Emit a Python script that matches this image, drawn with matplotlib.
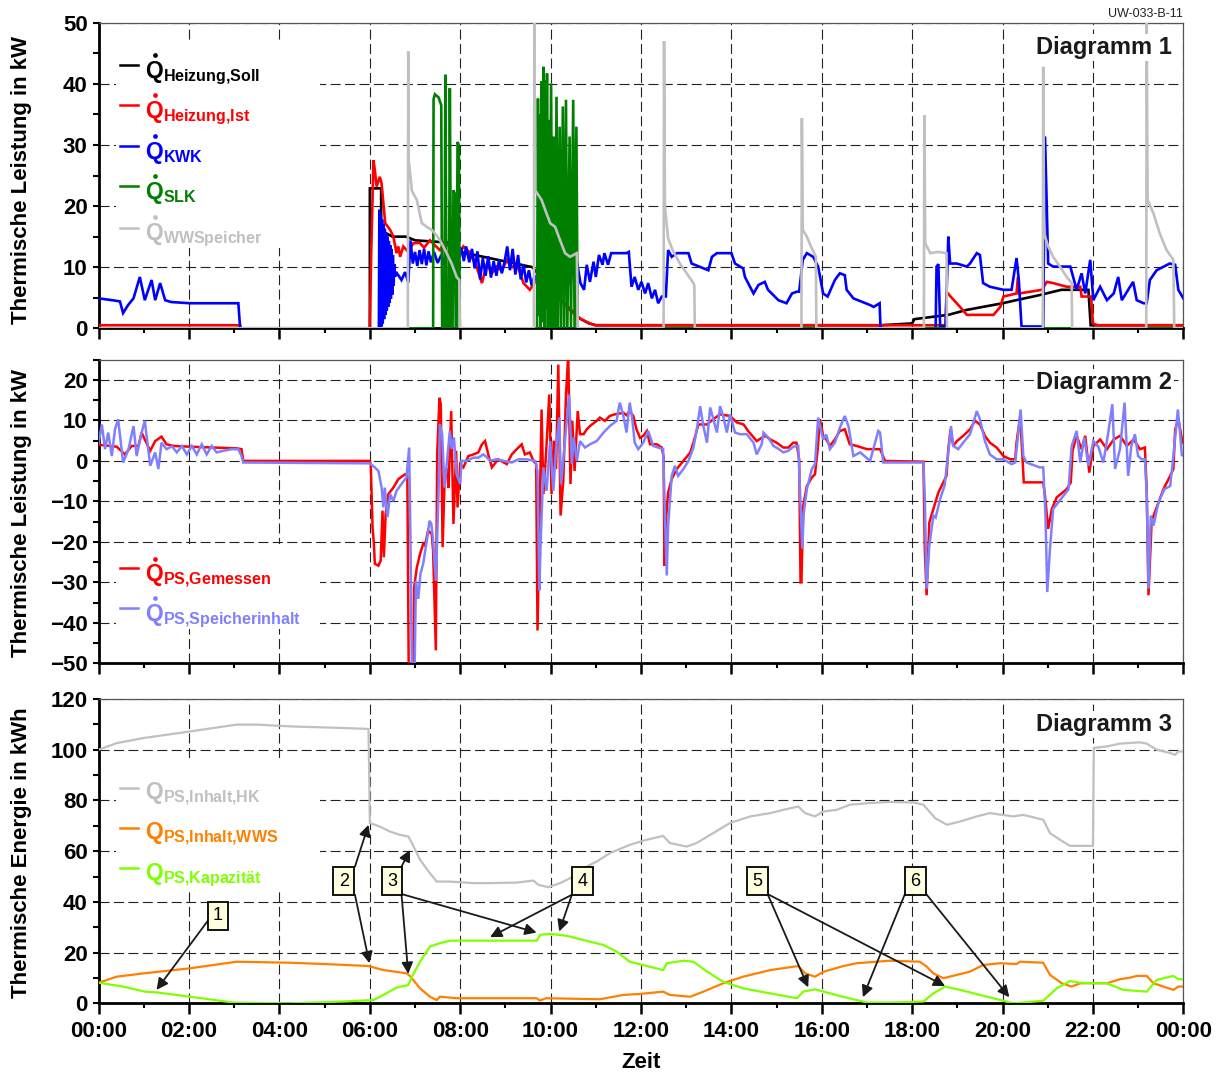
import matplotlib
matplotlib.use('Agg')
import matplotlib.pyplot as plt
from matplotlib.ticker import MultipleLocator, FixedLocator
from matplotlib.patches import Rectangle

plt.rcParams['font.family'] = ['Liberation Sans', 'DejaVu Sans']
plt.rcParams['mathtext.fontset'] = 'custom'
plt.rcParams['mathtext.bf'] = 'Liberation Sans:bold'
plt.rcParams['mathtext.rm'] = 'Liberation Sans'
plt.rcParams['mathtext.it'] = 'Liberation Sans:italic'
plt.rcParams['mathtext.sf'] = 'Liberation Sans'

# ---------------- data (time in hours, values) ----------------
heizung_soll = [(0, 0), (6.0, 0), (6.0, 22.9), (6.25, 22.9), (6.25, 16.0), (6.5, 15.0), (6.8, 15.0),
                (7.0, 14.4), (7.8, 14.0), (8.0, 12.5), (9.6, 10.0), (9.95, 6.8), (10.3, 4.1), (10.45, 3.0),
                (10.65, 1.6), (10.85, 0.8), (11.0, 0.5), (17.3, 0.5), (18.0, 0.8), (18.05, 1.5), (18.8, 2.2),
                (19.2, 3.0), (20.0, 4.1), (20.3, 4.6), (20.8, 5.4), (21.3, 6.3), (21.9, 6.3), (21.95, 0.5),
                (24, 0.5)]

heizung_ist = [(0, 0.5), (3.13, 0.5), (3.13, 0), (6.0, 0), (6.03, 12.3), (6.08, 27.5), (6.11, 25.9),
               (6.15, 23.2), (6.22, 24.8), (6.26, 23.7), (6.34, 17.2), (6.45, 16.1), (6.52, 15.0),
               (6.59, 12.3), (6.63, 13.4), (6.67, 11.7), (6.74, 13.4), (6.85, 12.5), (6.96, 13.9),
               (7.10, 14.0), (7.20, 13.2), (7.33, 14.4), (7.45, 13.5), (7.55, 12.8), (7.65, 14.0),
               (7.77, 13.4), (7.88, 12.6), (8.00, 12.3), (8.07, 13.4), (8.20, 12.5), (8.36, 10.1),
               (8.48, 7.4), (8.59, 10.6), (8.70, 9.0), (8.81, 10.1), (8.92, 9.4), (9.03, 11.2),
               (9.15, 10.0), (9.25, 10.6), (9.40, 7.4), (9.54, 6.3), (9.69, 7.9), (9.85, 6.5),
               (9.99, 6.8), (10.13, 5.2), (10.28, 4.1), (10.43, 3.0), (10.65, 1.6), (10.87, 0.8),
               (11.0, 0.5), (18.74, 0.5), (18.76, 6.0), (18.85, 5.2), (19.06, 3.5), (19.21, 2.2),
               (19.80, 2.2), (19.95, 3.5), (20.02, 5.2), (20.31, 5.7), (20.34, 8.4), (20.37, 5.7),
               (20.87, 6.3), (20.98, 7.6), (21.12, 7.4), (21.42, 6.8), (21.72, 6.8), (21.75, 5.2),
               (21.96, 5.2), (22.0, 0.8), (22.1, 0.5), (24.0, 0.5)]

kwk = [(0.0, 4.9), (0.30, 4.6), (0.47, 4.4), (0.54, 2.5), (0.65, 3.8), (0.77, 4.9), (0.91, 8.4),
       (1.02, 4.6), (1.17, 7.9), (1.25, 4.6), (1.36, 7.4), (1.47, 4.6), (1.60, 4.3), (2.02, 4.1),
       (3.09, 4.1), (3.13, 0), (6.20, 0), (6.21, 19.4), (6.225, 0), (6.24, 18.5), (6.255, 0.3),
       (6.27, 17.8), (6.285, 0.8), (6.30, 17.0), (6.315, 1.5), (6.33, 16.3), (6.345, 2.2), (6.36, 15.6),
       (6.375, 2.9), (6.39, 15.0), (6.405, 3.5), (6.42, 14.3), (6.435, 4.2), (6.45, 13.6), (6.465, 4.8),
       (6.48, 13.0), (6.495, 5.5), (6.51, 12.0), (6.525, 7.0), (6.54, 10.5), (6.56, 8.5),
       (6.60, 9.0), (6.70, 7.9), (6.78, 9.2), (6.85, 7.5), (6.90, 14.4), (6.95, 10.6), (7.00, 12.5),
       (7.05, 10.2), (7.10, 12.8), (7.15, 10.5), (7.20, 13.0), (7.25, 10.3), (7.30, 12.6),
       (7.35, 10.8), (7.42, 12.5), (7.50, 10.7), (7.58, 12.0), (7.65, 10.4), (7.72, 12.4),
       (7.80, 10.9), (7.88, 12.8), (7.95, 10.5), (8.02, 13.2), (8.08, 11.0), (8.13, 13.4),
       (8.20, 10.8), (8.26, 13.0), (8.32, 9.8), (8.38, 12.6), (8.44, 8.0), (8.50, 11.5), (8.56, 8.6),
       (8.62, 11.8), (8.68, 8.3), (8.74, 11.0), (8.80, 8.6), (8.86, 11.2), (8.92, 9.0), (8.98, 10.8),
       (9.04, 13.4), (9.10, 9.5), (9.16, 13.0), (9.22, 8.8), (9.28, 12.0), (9.34, 8.0), (9.40, 10.5),
       (9.46, 7.5), (9.52, 9.5), (9.58, 7.0), (9.64, 8.5), (9.69, 7.9), (9.75, 13.0), (9.80, 9.0),
       (9.86, 12.5), (9.92, 8.5), (9.98, 12.0), (10.04, 7.5), (10.10, 11.5), (10.16, 7.0),
       (10.22, 12.8), (10.28, 8.0), (10.34, 11.8), (10.40, 7.2), (10.46, 12.0), (10.52, 7.8),
       (10.58, 11.0), (10.66, 7.4), (10.74, 6.3), (10.80, 10.4), (10.87, 7.6), (10.95, 10.9),
       (11.00, 8.4), (11.07, 12.0), (11.15, 10.4), (11.19, 12.3), (11.27, 10.4), (11.34, 12.3),
       (11.68, 12.3), (11.73, 12.5), (11.79, 6.8), (11.86, 8.4), (11.94, 6.3), (12.01, 7.6),
       (12.09, 5.7), (12.16, 7.4), (12.24, 4.9), (12.31, 6.3), (12.38, 4.1), (12.46, 5.2),
       (12.55, 5.2), (12.60, 12.8), (12.68, 11.7), (12.79, 12.3), (13.05, 12.3), (13.12, 10.6),
       (13.49, 9.5), (13.57, 11.7), (13.68, 12.3), (14.00, 12.3), (14.08, 10.6), (14.26, 9.8),
       (14.30, 8.4), (14.49, 5.7), (14.60, 7.1), (14.74, 7.6), (14.81, 6.3), (15.04, 4.6),
       (15.22, 4.1), (15.34, 5.7), (15.45, 6.0), (15.50, 6.0), (15.58, 11.2), (15.67, 12.3),
       (15.81, 11.7), (15.92, 10.1), (16.03, 5.7), (16.13, 5.2), (16.29, 7.9), (16.40, 9.0),
       (16.51, 8.7), (16.55, 6.3), (16.70, 4.9), (17.07, 3.8), (17.15, 3.5), (17.28, 4.1),
       (17.30, 0), (18.52, 0), (18.54, 10.1), (18.58, 10.5), (18.62, 0.3), (18.74, 0.3),
       (18.80, 15.0), (18.84, 10.6), (18.99, 10.6), (19.21, 10.1), (19.28, 10.6), (19.43, 12.3),
       (19.50, 12.0), (19.57, 7.4), (19.72, 6.8), (20.02, 6.3), (20.20, 6.3), (20.31, 11.5),
       (20.36, 7.9), (20.42, 0.3), (20.90, 0.3), (20.94, 31.4), (21.01, 10.6), (21.12, 10.1),
       (21.50, 10.1), (21.64, 6.3), (21.75, 9.0), (21.83, 5.7), (21.94, 11.2), (22.01, 4.6),
       (22.16, 6.8), (22.31, 4.6), (22.46, 5.7), (22.56, 8.4), (22.64, 4.6), (22.78, 6.3),
       (22.89, 7.6), (22.97, 4.6), (23.12, 4.1), (23.19, 4.1), (23.26, 7.9), (23.41, 9.5),
       (23.70, 10.6), (23.82, 10.4), (23.89, 6.3), (24.0, 4.9)]

slk = [(0, 0), (7.40, 0), (7.41, 37.5), (7.44, 38.3), (7.52, 37.8), (7.58, 36.5), (7.60, 0), (7.65, 0),
       (7.67, 41.5), (7.70, 0), (7.75, 0), (7.77, 39.3), (7.80, 0), (7.83, 0), (7.85, 22.6), (7.88, 22.0),
       (7.90, 0), (7.92, 0), (7.94, 30.5), (7.97, 30.0), (7.99, 0), (9.70, 0), (9.72, 37.6), (9.74, 2),
       (9.76, 35.0), (9.78, 0), (9.80, 40.4), (9.82, 1), (9.84, 42.8), (9.86, 0), (9.88, 40.6),
       (9.90, 3), (9.92, 41.7), (9.94, 0), (9.96, 34.1), (9.98, 0), (10.01, 40.1), (10.04, 0),
       (10.07, 31.4), (10.10, 0), (10.13, 37.9), (10.16, 0), (10.20, 33.0), (10.23, 0), (10.27, 36.3),
       (10.30, 0), (10.34, 37.4), (10.37, 0), (10.42, 31.4), (10.45, 0), (10.50, 37.4), (10.53, 0),
       (10.57, 33.0), (10.60, 0), (24, 0)]

ww_speicher = [(0, 0), (6.84, 0), (6.85, 45.3), (6.86, 27.5), (6.90, 24.8), (6.93, 22.5), (7.04, 21.0),
               (7.15, 17.2), (7.26, 16.6), (7.37, 16.1), (7.48, 15.2), (7.59, 13.9), (7.70, 12.3),
               (7.81, 10.6), (7.92, 8.4), (7.98, 7.9), (7.99, 0), (9.63, 0), (9.64, 50.5), (9.66, 22.6),
               (9.80, 21.0), (9.91, 18.8), (9.99, 17.2), (10.10, 16.6), (10.21, 14.4), (10.32, 12.3),
               (10.43, 11.7), (10.58, 12.3), (10.60, 0), (12.50, 0), (12.51, 47.0), (12.53, 19.9),
               (12.60, 14.7), (12.70, 12.8), (12.86, 10.6), (13.01, 9.0), (13.16, 7.4), (13.18, 7.0),
               (13.19, 0), (15.55, 0), (15.56, 34.4), (15.58, 16.1), (15.67, 15.0), (15.76, 13.4),
               (15.87, 11.7), (15.88, 0), (18.26, 0), (18.27, 34.9), (18.29, 13.9), (18.40, 12.3),
               (18.58, 12.5), (18.76, 12.3), (18.77, 0), (20.89, 0), (20.90, 42.8), (20.92, 15.5),
               (21.01, 13.4), (21.12, 11.7), (21.27, 10.1), (21.42, 8.4), (21.53, 7.4), (21.54, 0),
               (23.18, 0), (23.19, 50.5), (23.21, 21.0), (23.34, 18.8), (23.48, 15.5), (23.63, 12.8),
               (23.78, 11.2), (23.80, 0), (24, 0)]

ps_gemessen = [(0, 4.0), (0.25, 3.7), (0.40, 3.5), (0.58, 1.6), (0.73, 3.7), (0.88, 3.7), (0.95, 7.0),
               (1.02, 5.3), (1.14, 2.5), (1.25, 4.9), (1.39, 6.0), (1.50, 4.1), (1.66, 3.7), (2.03, 3.5),
               (3.05, 3.1), (3.16, 2.9), (3.20, 0), (6.0, 0), (6.02, -0.8), (6.06, -16.4), (6.09, -20.5),
               (6.11, -25.4), (6.19, -25.9), (6.24, -24.6), (6.28, -12.3), (6.31, -23.8), (6.35, -13.1),
               (6.41, -8.2), (6.52, -6.6), (6.63, -4.5), (6.78, -3.3), (6.83, -3.7), (6.86, -52),
               (6.96, -52), (6.98, -31.2), (7.04, -26.3), (7.11, -23.0), (7.18, -20.5), (7.22, -20.9),
               (7.29, -17.2), (7.37, -18.1), (7.40, -22.2), (7.46, -46.8), (7.49, 1.6), (7.54, 15.6),
               (7.57, 14.0), (7.61, -21.3), (7.66, -2.5), (7.70, -1.8), (7.74, -6.6), (7.80, 12.3),
               (7.85, -15.6), (7.91, 2.5), (7.94, -11.5), (8.00, -0.8), (8.07, -1.6), (8.18, 1.2),
               (8.29, 1.6), (8.40, 2.1), (8.48, 4.1), (8.55, 4.9), (8.62, 1.6), (8.70, -1.6), (8.84, 0.4),
               (9.03, -0.8), (9.14, 1.6), (9.25, 2.9), (9.36, 4.1), (9.43, 1.6), (9.54, 2.1), (9.62, 0.0),
               (9.68, -0.8), (9.71, -41.9), (9.75, -18.0), (9.80, 12.7), (9.84, -8.2), (9.90, 2.0),
               (9.97, 16.4), (10.02, -8.2), (10.07, 5.0), (10.12, -2.0), (10.17, 23.8), (10.22, -13.5),
               (10.28, -5.0), (10.34, 16.4), (10.39, 26), (10.44, -5.7), (10.48, 9.9), (10.53, -2.5),
               (10.60, 12.3), (10.65, 6.6), (10.73, 6.6), (10.80, 7.8), (10.87, 8.6), (11.02, 9.9),
               (11.09, 10.7), (11.20, 9.9), (11.31, 11.1), (11.42, 11.5), (11.61, 11.9), (11.68, 11.3),
               (11.75, 12.3), (11.83, 11.1), (11.90, 7.8), (11.98, 5.7), (12.05, 6.2), (12.13, 7.4),
               (12.20, 4.1), (12.35, 4.1), (12.46, 3.3), (12.50, 1.0), (12.52, -25.9), (12.56, -13.5),
               (12.60, -7.8), (12.68, -4.5), (12.79, -2.0), (12.94, 0.0), (13.09, 2.1), (13.16, 4.5),
               (13.27, 9.0), (13.46, 9.0), (13.60, 10.3), (13.75, 11.5), (13.97, 11.1), (14.12, 9.5),
               (14.27, 9.0), (14.37, 7.4), (14.56, 4.9), (14.67, 5.7), (14.75, 6.2), (14.86, 5.3),
               (15.00, 4.5), (15.15, 3.3), (15.26, 3.3), (15.37, 4.5), (15.44, 4.5), (15.50, 0.4),
               (15.53, -30.0), (15.55, -30.0), (15.59, -11.1), (15.67, -6.2), (15.78, -4.1), (15.85, -3.3),
               (15.91, 2.9), (15.96, 10.3), (16.03, 6.2), (16.10, 5.3), (16.18, 3.7), (16.29, 5.3),
               (16.40, 7.4), (16.51, 7.8), (16.62, 4.1), (16.77, 3.7), (17.00, 2.9), (17.14, 2.9),
               (17.29, 2.9), (17.40, 0.0), (18.25, -0.2), (18.28, -21.7), (18.32, -33.2), (18.38, -15.2),
               (18.47, -11.9), (18.58, -7.8), (18.69, -5.3), (18.76, -3.7), (18.80, 2.9), (18.85, 7.8),
               (18.91, 3.7), (18.99, 4.9), (19.13, 6.2), (19.28, 7.8), (19.39, 9.9), (19.50, 9.0),
               (19.61, 6.2), (19.72, 4.5), (19.87, 3.3), (20.02, 1.2), (20.17, 0.4), (20.28, 0.4),
               (20.31, 4.5), (20.39, 11.1), (20.44, 1.2), (20.47, -5.3), (20.90, -5.3), (20.94, -8.6),
               (21.01, -16.8), (21.09, -11.9), (21.20, -9.0), (21.42, -7.0), (21.51, -5.3), (21.55, 2.5),
               (21.64, 6.2), (21.75, 2.9), (21.83, 6.2), (21.92, -2.9), (22.01, 3.7), (22.16, 5.3),
               (22.31, 2.9), (22.46, 5.3), (22.60, 6.2), (22.75, 3.7), (22.90, 5.3), (23.04, 2.9),
               (23.15, 3.3), (23.19, -7.0), (23.23, -33.2), (23.30, -14.8), (23.41, -11.5), (23.56, -7.0),
               (23.71, -3.7), (23.78, -2.0), (23.82, 7.8), (23.89, 10.3), (23.97, 5.3), (24.0, 4.5)]

ps_speicherinhalt = [(0, 4.5), (0.07, 9.0), (0.14, 2.9), (0.21, 7.0), (0.29, 1.2), (0.36, 7.8), (0.43, 10.3),
                     (0.54, -0.4), (0.66, 2.9), (0.77, 8.6), (0.84, 1.2), (0.95, 7.0), (1.02, 9.9),
                     (1.14, -1.2), (1.25, 2.1), (1.32, -2.0), (1.39, 4.5), (1.50, 2.9), (1.62, 3.6),
                     (1.73, 2.1), (1.84, 3.7), (1.95, 1.6), (2.06, 3.7), (2.17, 1.6), (2.28, 4.1), (2.39, 1.6),
                     (2.50, 3.7), (2.61, 2.1), (2.76, 2.5), (2.94, 2.9), (3.09, 2.9), (3.16, 1.2), (3.20, -0.4),
                     (6.0, -0.6), (6.11, -1.6), (6.19, -2.5), (6.26, -6.6), (6.30, -11.5), (6.33, -6.6),
                     (6.39, -13.9), (6.45, -8.2), (6.52, -9.9), (6.59, -7.4), (6.70, -5.7), (6.81, -4.1),
                     (6.87, 3.3), (6.90, -21.0), (6.93, -52), (6.99, -52), (7.02, -29.6), (7.07, -34.1),
                     (7.12, -27.9), (7.18, -25.4), (7.26, -19.7), (7.32, -14.8), (7.36, -15.5), (7.40, -19.7),
                     (7.46, -29.6), (7.52, -8.2), (7.55, 9.0), (7.60, 6.6), (7.65, -6.6), (7.70, -1.0),
                     (7.77, 7.4), (7.81, 3.0), (7.86, 5.8), (7.92, -3.3), (8.00, -5.7), (8.03, 0.0),
                     (8.14, 0.0), (8.29, 0.8), (8.40, 0.8), (8.51, 1.6), (8.58, 1.0), (8.66, 0.0), (8.80, 0.4),
                     (9.14, -0.4), (9.29, 0.4), (9.47, 0.4), (9.66, 0.0), (9.71, -2.5), (9.75, -32.0),
                     (9.78, -20.0), (9.84, -1.6), (9.91, -7.4), (9.99, 4.9), (10.06, -7.4), (10.12, 3.0),
                     (10.19, 10.7), (10.23, -5.7), (10.30, 3.0), (10.41, 16.4), (10.47, -0.8), (10.51, 5.8),
                     (10.58, 0.0), (10.65, 4.9), (10.76, 3.3), (10.87, 4.1), (11.02, 4.9), (11.17, 7.0),
                     (11.31, 8.6), (11.46, 9.9), (11.53, 14.4), (11.61, 11.1), (11.68, 7.0), (11.75, 14.4),
                     (11.80, 11.0), (11.86, 4.5), (11.94, 2.9), (12.05, 4.5), (12.16, 7.4), (12.27, 3.7),
                     (12.38, 3.3), (12.49, 2.9), (12.53, -13.5), (12.57, -28.3), (12.60, -16.0), (12.68, -3.7),
                     (12.75, -1.2), (12.82, -3.7), (12.94, -2.0), (13.05, 0.0), (13.16, 3.3), (13.23, 7.4),
                     (13.31, 13.5), (13.38, 8.6), (13.46, 4.5), (13.53, 13.2), (13.60, 10.3), (13.68, 7.0),
                     (13.75, 13.5), (13.82, 11.0), (13.90, 7.0), (13.97, 11.5), (14.08, 7.0), (14.19, 6.6),
                     (14.34, 6.6), (14.49, 4.5), (14.56, 1.6), (14.67, 4.1), (14.71, 7.0), (14.82, 5.7),
                     (14.93, 3.7), (15.04, 3.0), (15.15, 2.1), (15.26, 2.5), (15.37, 3.5), (15.48, 3.7),
                     (15.52, -8.0), (15.57, -21.7), (15.60, -13.0), (15.67, -7.0), (15.78, -2.0), (15.85, -0.8),
                     (15.92, 10.7), (16.03, 5.3), (16.10, 6.5), (16.18, 2.9), (16.29, 4.5), (16.40, 8.2),
                     (16.51, 11.1), (16.59, 8.6), (16.70, 1.2), (16.85, 2.1), (17.07, 0.0), (17.25, 7.4),
                     (17.29, 7.0), (17.36, -0.4), (18.25, -0.4), (18.28, -9.4), (18.32, -31.6), (18.38, -20.9),
                     (18.47, -13.5), (18.52, -14.0), (18.62, -9.4), (18.72, -6.0), (18.80, 2.1), (18.86, 8.6),
                     (18.91, 3.7), (19.02, 2.9), (19.13, 4.5), (19.28, 6.6), (19.43, 12.3), (19.50, 10.3),
                     (19.61, 4.9), (19.72, 1.6), (19.87, 0.4), (20.02, 0.4), (20.20, -0.8), (20.28, -0.4),
                     (20.35, 7.0), (20.40, 12.7), (20.46, 1.2), (20.53, -0.4), (20.82, -1.6), (20.90, -1.6),
                     (20.95, -13.5), (20.99, -32.4), (21.05, -21.7), (21.12, -11.9), (21.23, -10.3),
                     (21.35, -8.6), (21.46, -7.0), (21.53, 3.7), (21.64, 7.4), (21.72, -0.4), (21.81, 5.8),
                     (21.90, -1.2), (22.01, 4.9), (22.12, 3.5), (22.23, -0.4), (22.34, 7.0), (22.43, 14.0),
                     (22.49, -2.0), (22.60, 3.0), (22.70, 14.4), (22.78, -3.7), (22.85, 3.7), (22.93, 6.6),
                     (23.00, 1.2), (23.08, 0.4), (23.15, 0.4), (23.19, -8.0), (23.23, -31.6), (23.28, -13.5),
                     (23.34, -16.0), (23.45, -10.3), (23.58, -7.0), (23.71, -6.2), (23.78, 1.2), (23.88, 12.7),
                     (23.92, 8.0), (23.97, 1.2), (24.0, 1.6)]

inhalt_hk = [(0, 100.0), (0.4, 102.6), (0.99, 104.6), (2.02, 107.2), (3.05, 109.9), (3.5, 109.9),
             (4.23, 109.2), (5.34, 108.6), (5.97, 108.2), (6.0, 71.1), (6.22, 69.7), (6.45, 67.7),
             (6.67, 66.4), (6.85, 65.8), (6.93, 63.2), (7.11, 56.6), (7.33, 51.3), (7.48, 48.0),
             (7.77, 48.0), (8.29, 47.4), (8.66, 47.4), (9.25, 47.6), (9.62, 48.4), (9.73, 46.7),
             (9.95, 45.8), (10.21, 47.4), (10.43, 49.3), (10.65, 52.6), (11.02, 55.9), (11.31, 59.2),
             (11.75, 62.5), (12.13, 64.5), (12.49, 66.0), (12.64, 63.2), (13.01, 61.8), (13.23, 63.2),
             (13.53, 66.4), (13.97, 71.1), (14.42, 73.7), (14.86, 75.0), (15.15, 76.3), (15.48, 77.6),
             (15.63, 75.0), (15.85, 73.7), (16.03, 75.6), (16.33, 76.3), (16.62, 78.3), (17.07, 79.0),
             (17.51, 79.4), (18.03, 79.2), (18.25, 78.3), (18.51, 73.0), (18.77, 70.4), (19.06, 71.7),
             (19.43, 73.7), (19.72, 75.0), (20.24, 73.7), (20.46, 74.3), (20.90, 72.4), (21.05, 67.1),
             (21.27, 64.5), (21.49, 62.1), (22.0, 62.1), (22.02, 100.7), (22.31, 101.3), (22.60, 102.4),
             (23.04, 102.9), (23.19, 102.4), (23.41, 100.0), (23.71, 98.7), (23.82, 98.0), (23.89, 99.3),
             (24.0, 99.3)]

inhalt_wws = [(0, 8.1), (0.4, 10.5), (0.99, 11.8), (2.02, 13.8), (3.05, 16.4), (4.23, 16.0), (4.97, 15.5),
              (5.97, 14.7), (6.3, 13.1), (6.82, 11.8), (6.9, 10.5), (7.11, 5.9), (7.33, 2.6), (7.48, 1.3),
              (7.55, 2.6), (7.92, 2.0), (8.66, 2.0), (9.69, 2.0), (9.76, 1.1), (9.9, 2.0), (11.09, 1.6),
              (11.61, 3.3), (11.98, 3.7), (12.49, 4.6), (12.64, 3.3), (13.09, 2.6), (13.38, 4.6),
              (13.82, 7.9), (14.26, 10.5), (14.86, 13.1), (15.48, 14.7), (15.63, 11.8), (15.85, 10.5),
              (16.03, 12.4), (16.48, 14.7), (16.77, 15.8), (17.51, 16.8), (18.17, 16.4), (18.32, 14.5),
              (18.47, 11.8), (18.69, 9.9), (18.99, 11.2), (19.28, 12.5), (19.57, 15.1), (19.95, 15.8),
              (20.31, 15.5), (20.39, 16.4), (20.9, 16.0), (21.05, 11.2), (21.31, 7.9), (21.53, 6.6),
              (21.72, 7.9), (22.31, 7.9), (22.6, 9.5), (22.82, 10.1), (22.97, 10.8), (23.19, 10.8),
              (23.34, 7.9), (23.56, 6.6), (23.78, 5.3), (23.89, 6.6), (24.0, 6.6)]

kapazitaet = [(0, 8.1), (0.54, 6.6), (1.02, 4.6), (1.28, 4.3), (2.02, 2.6), (2.98, 0.3), (4.23, 0.0),
              (5.41, 0.7), (6.08, 1.3), (6.3, 3.3), (6.59, 6.2), (6.85, 7.2), (6.93, 10.5), (7.11, 16.4),
              (7.33, 22.4), (7.55, 23.7), (7.77, 24.7), (8.66, 24.7), (9.69, 24.7), (9.77, 27.0),
              (9.99, 27.4), (10.36, 26.6), (10.87, 24.3), (11.17, 23.0), (11.46, 20.4), (11.75, 16.4),
              (12.13, 14.7), (12.49, 13.1), (12.57, 15.8), (12.94, 16.8), (13.16, 16.4), (13.46, 12.5),
              (13.82, 8.5), (14.26, 5.9), (14.86, 3.9), (15.45, 2.0), (15.59, 4.6), (15.85, 5.5),
              (16.4, 2.9), (17.0, 0.3), (17.51, 0.3), (18.25, 0.7), (18.47, 3.9), (18.73, 6.6),
              (19.06, 5.3), (19.5, 3.3), (19.95, 1.3), (20.24, 0.0), (20.9, 1.0), (21.2, 5.9),
              (21.49, 8.8), (21.72, 8.1), (22.31, 7.9), (22.67, 5.3), (23.19, 4.6), (23.41, 9.2),
              (23.78, 10.8), (23.89, 9.5), (24.0, 9.5)]

# annotation boxes in Diagramm 3: label, box position, arrow (start, tip)
marker_labels = ['1', '2', '3', '4', '5', '6']
marker_pos = [(2.64, 34.5), (5.42, 48.2), (6.49, 48.2), (10.71, 48.2), (14.57, 48.2), (18.07, 48.2)]
marker_arrows = [
    [((2.43, 32.9), (1.28, 5.3))],
    [((5.67, 53.9), (5.97, 70.4)), ((5.67, 42.8), (5.99, 15.8))],
    [((6.70, 53.9), (6.89, 60.5)), ((6.70, 43.1), (6.85, 11.6)), ((6.70, 43.1), (9.69, 27.9))],
    [((10.47, 42.8), (8.66, 26.1)), ((10.47, 42.8), (10.19, 28.3))],
    [((14.80, 43.1), (15.70, 6.3)), ((14.80, 43.1), (18.73, 6.8))],
    [((17.84, 43.1), (16.91, 2.4)), ((18.31, 43.1), (20.15, 2.4))],
]

hour_ticks = list(range(0, 25, 2))
hour_labels = ['00:00', '02:00', '04:00', '06:00', '08:00', '10:00', '12:00',
               '14:00', '16:00', '18:00', '20:00', '22:00', '00:00']

# ---------------- figure ----------------
W, H = 1219, 1072
fig = plt.figure(figsize=(W / 100, H / 100), dpi=100)

boxes = [(98.7, 22.8, 1183.3, 328.3), (98.7, 359.7, 1183.3, 663.3), (98.7, 699.0, 1183.3, 1003.3)]
axes = []
for (l, t, r, b) in boxes:
    axes.append(fig.add_axes([l / W, 1 - b / H, (r - l) / W, (b - t) / H]))


def px2ax(i, px, py):
    l, t, r, b = boxes[i]
    return (px - l) / (r - l), (b - py) / (b - t)


grid_ls = (0, (9, 4))
for i, ax in enumerate(axes):
    ax.set_xlim(0, 24)
    ax.xaxis.set_major_locator(FixedLocator(hour_ticks))
    ax.xaxis.set_minor_locator(MultipleLocator(1))
    ax.grid(True, which='major', linestyle=grid_ls, color='#222222', lw=0.8)
    ax.set_axisbelow(True)
    for s in ['left', 'bottom']:
        ax.spines[s].set_linewidth(2.0)
        ax.spines[s].set_color('black')
    for s in ['top', 'right']:
        ax.spines[s].set_linewidth(0.9)
        ax.spines[s].set_color('#555555')
    ax.tick_params(axis='x', which='major', direction='out', length=8, width=1.8, pad=5,
                   labelsize=16)
    ax.tick_params(axis='x', which='minor', direction='out', length=3.5, width=1.5)
    ax.tick_params(axis='y', which='both', direction='out', length=4, width=1.5, pad=4,
                   labelsize=16)
    ax.tick_params(top=False, right=False)
    for lab in ax.get_xticklabels() + ax.get_yticklabels():
        lab.set_fontweight('bold')
    if i < 2:
        ax.tick_params(axis='x', labelbottom=False)


def series(ax, data, color, lw, z):
    t = [p[0] for p in data]
    v = [p[1] for p in data]
    ax.plot(t, v, color=color, lw=lw, zorder=z, solid_joinstyle='miter')


def legend_block(i, first_base, last_base):
    # white legend background hiding the grid lines (as in the original)
    ax = axes[i]
    x0, y0 = px2ax(i, 116, last_base + 8)
    x1, y1 = px2ax(i, 320, first_base - 38)
    ax.add_patch(Rectangle((x0, y0), x1 - x0, y1 - y0, transform=ax.transAxes,
                           fc='white', ec='none', zorder=1))


def legend_entry(i, line_y, base_y, color, label, dotted=True, size=16.5):
    ax = axes[i]
    x0, y0 = px2ax(i, 120, line_y)
    x1, _ = px2ax(i, 138, line_y)
    ax.plot([x0, x1], [y0, y0], color=color, lw=1.8, transform=ax.transAxes, clip_on=False, zorder=6)
    tx, ty = px2ax(i, 145, base_y)
    ax.text(tx, ty, label, color=color, fontsize=size, transform=ax.transAxes,
            ha='left', va='baseline', zorder=6)
    if dotted:
        # time-derivative dot above the Q
        dx, dy = px2ax(i, 154.5, base_y - 23)
        ax.plot([dx], [dy], marker='o', ms=3.4, mew=0, color=color, transform=ax.transAxes,
                clip_on=False, zorder=6)


# ---- Diagramm 1 ----
ax1 = axes[0]
series(ax1, heizung_soll, 'black', 1.9, 2)
series(ax1, heizung_ist, '#FF0000', 1.9, 3)
series(ax1, kwk, '#0000FF', 1.9, 4)
series(ax1, slk, '#008000', 1.9, 5)
series(ax1, ww_speicher, '#C0C0C0', 1.9, 5.5)
ax1.set_ylim(0, 50)
ax1.yaxis.set_major_locator(MultipleLocator(10))
ax1.yaxis.set_minor_locator(MultipleLocator(5))
legend_block(0, 78, 240)
legend_entry(0, 65, 78, 'black', r'$\mathbf{Q}_{\mathbf{Heizung{,}Soll}}$')
legend_entry(0, 105, 118, '#FF0000', r'$\mathbf{Q}_{\mathbf{Heizung{,}Ist}}$')
legend_entry(0, 146, 159, '#0000FF', r'$\mathbf{Q}_{\mathbf{KWK}}$')
legend_entry(0, 186, 199, '#008000', r'$\mathbf{Q}_{\mathbf{SLK}}$')
legend_entry(0, 228, 240, '#C0C0C0', r'$\mathbf{Q}_{\mathbf{WWSpeicher}}$')

# ---- Diagramm 2 ----
ax2 = axes[1]
series(ax2, ps_gemessen, '#FF0000', 1.8, 3)
series(ax2, ps_speicherinhalt, '#8080FF', 1.8, 4)
ax2.set_ylim(-50, 25)
ax2.yaxis.set_major_locator(FixedLocator([-50, -40, -30, -20, -10, 0, 10, 20]))
ax2.yaxis.set_minor_locator(FixedLocator([-45, -35, -25, -15, -5, 5, 15, 25]))
legend_block(1, 582, 621)
legend_entry(1, 568, 582, '#FF0000', r'$\mathbf{Q}_{\mathbf{PS{,}Gemessen}}$')
legend_entry(1, 608, 621, '#8080FF', r'$\mathbf{Q}_{\mathbf{PS{,}Speicherinhalt}}$')

# ---- Diagramm 3 ----
ax3 = axes[2]
series(ax3, inhalt_hk, '#C0C0C0', 1.6, 3)
series(ax3, inhalt_wws, '#FF8000', 1.6, 4)
series(ax3, kapazitaet, '#80FF00', 1.6, 5)
ax3.set_ylim(0, 120)
ax3.yaxis.set_major_locator(MultipleLocator(20))
ax3.yaxis.set_minor_locator(MultipleLocator(10))
ax3.set_xticklabels(hour_labels, fontweight='bold', fontsize=16)
legend_block(2, 800, 880)
legend_entry(2, 788, 800, '#C0C0C0', r'$\mathbf{Q}_{\mathbf{PS{,}Inhalt{,}HK}}$', dotted=False)
legend_entry(2, 828, 840, '#FF8000', r'$\mathbf{Q}_{\mathbf{PS{,}Inhalt{,}WWS}}$', dotted=False)
legend_entry(2, 868, 880, '#80FF00', r'$\mathbf{Q}_{\mathbf{PS{,}Kapazität}}$', dotted=False)

for lab, pos, arrows in zip(marker_labels, marker_pos, marker_arrows):
    for start, tip in arrows:
        ax3.annotate('', xy=tip, xytext=start,
                     arrowprops=dict(arrowstyle='-|>', color='#1a1a1a', lw=1.3,
                                     mutation_scale=17, shrinkA=0, shrinkB=0), zorder=7)
    ax3.text(pos[0], pos[1], lab, ha='center', va='center', fontsize=13, zorder=8,
             bbox=dict(boxstyle='square,pad=0.3', fc='#FFFFE0', ec='black', lw=1.3))

# panel titles
for i, name in enumerate(['Diagramm 1', 'Diagramm 2', 'Diagramm 3']):
    base = [54, 389, 731][i]
    x, y = px2ax(i, 1172, base)
    axes[i].text(x, y, name, transform=axes[i].transAxes, ha='right', va='baseline',
                 fontsize=17, fontweight='bold', color='#1a1a1a', zorder=9,
                 bbox=dict(fc='white', ec='none', pad=1.5))

fig.text(1183 / W, 1 - 17 / H, 'UW-033-B-11', ha='right', va='baseline', fontsize=9, color='#222222')

# axis labels
fig.text(22 / W, 1 - 180 / H, 'Thermische Leistung in kW', rotation=90, ha='center', va='center',
         fontsize=16, fontweight='bold')
fig.text(22 / W, 1 - 513 / H, 'Thermische Leistung in kW', rotation=90, ha='center', va='center',
         fontsize=16, fontweight='bold')
fig.text(22 / W, 1 - 853 / H, 'Thermische Energie in kWh', rotation=90, ha='center', va='center',
         fontsize=16, fontweight='bold')
fig.text(641 / W, 1 - 1062 / H, 'Zeit', ha='center', va='center', fontsize=16, fontweight='bold')

fig.savefig('out.png', dpi=100)
